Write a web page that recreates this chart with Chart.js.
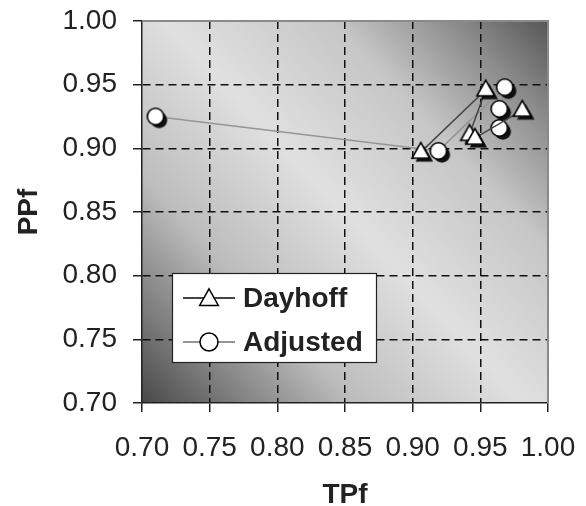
<!DOCTYPE html>
<html>
<head>
<meta charset="utf-8">
<script src="https://cdn.jsdelivr.net/npm/chart.js@4/dist/chart.umd.min.js"></script>
<style>
  html, body { margin: 0; padding: 0; background: #fff; }
  #wrap { width: 586px; height: 506px; }
</style>
</head>
<body>
<div id="wrap"><canvas id="chart" width="586" height="506"></canvas></div>
<script>
// data
var seriesNames = ['Dayhoff', 'Adjusted'];
var dayhoffTPf = [0.906, 0.954, 0.942, 0.946, 0.981];
var dayhoffPPf = [0.897, 0.946, 0.911, 0.908, 0.930];
var adjustedTPf = [0.710, 0.919, 0.968, 0.964, 0.964];
var adjustedPPf = [0.925, 0.898, 0.948, 0.931, 0.916];
var xTicks = [0.70, 0.75, 0.80, 0.85, 0.90, 0.95, 1.00];
var yTicks = [0.70, 0.75, 0.80, 0.85, 0.90, 0.95, 1.00];

var FONT = '"Liberation Sans", Arial, sans-serif';

function toPoints(xs, ys) {
    return xs.map(function (x, i) { return { x: x, y: ys[i] }; });
}

// marker glyph with a dark drop shadow, as used in the picture
function shapePath(g, kind, cx, cy, s) {
    g.beginPath();
    if (kind === 'circle') {
        g.arc(cx, cy, s, 0, Math.PI * 2);
    } else {
        g.moveTo(cx, cy - s * 1.2);
        g.lineTo(cx + s * 1.1, cy + s * 0.75);
        g.lineTo(cx - s * 1.1, cy + s * 0.75);
        g.closePath();
    }
}

function markerCanvas(kind, s) {
    var c = document.createElement('canvas');
    c.width = 40; c.height = 40;
    var g = c.getContext('2d');
    shapePath(g, kind, 23.5, 23.5, s);
    g.fillStyle = '#111';
    g.fill();
    shapePath(g, kind, 20, 20, s);
    g.fillStyle = '#fff';
    g.fill();
    g.lineWidth = 1.6;
    g.strokeStyle = '#000';
    g.stroke();
    return c;
}

var triMarker = markerCanvas('triangle', 8);
var circMarker = markerCanvas('circle', 8.2);

var plotBackground = {
    id: 'plotBackground',
    beforeDraw: function (chart) {
        var a = chart.chartArea, ctx = chart.ctx;
        var grad = ctx.createLinearGradient(a.left, a.bottom, a.right, a.top);
        grad.addColorStop(0, '#484848');
        grad.addColorStop(0.12, '#7c7c7c');
        grad.addColorStop(0.28, '#bdbdbd');
        grad.addColorStop(0.5, '#e0e0e0');
        grad.addColorStop(0.72, '#c6c6c6');
        grad.addColorStop(0.88, '#8a8a8a');
        grad.addColorStop(1, '#575757');
        ctx.save();
        ctx.fillStyle = grad;
        ctx.fillRect(a.left, a.top, a.right - a.left, a.bottom - a.top);
        ctx.restore();
    },
    beforeDatasetsDraw: function (chart) {
        var a = chart.chartArea, ctx = chart.ctx;
        ctx.save();
        ctx.strokeStyle = '#8a8a8a';
        ctx.lineWidth = 2;
        ctx.beginPath();
        ctx.moveTo(a.left, a.top);
        ctx.lineTo(a.right, a.top);
        ctx.lineTo(a.right, a.bottom);
        ctx.stroke();
        ctx.restore();
    }
};

var boxLegend = {
    id: 'boxLegend',
    afterDraw: function (chart) {
        var ctx = chart.ctx;
        var x0 = 172, y0 = 273, w = 204, h = 89;
        ctx.save();
        ctx.fillStyle = '#fff';
        ctx.fillRect(x0, y0, w, h);
        ctx.strokeStyle = '#222';
        ctx.lineWidth = 1.2;
        ctx.strokeRect(x0 + 0.5, y0 + 0.5, w, h);
        var kinds = ['triangle', 'circle'];
        chart.data.datasets.forEach(function (ds, i) {
            var cy = y0 + 25 + i * 44;
            ctx.strokeStyle = ds.borderColor;
            ctx.lineWidth = 2;
            ctx.beginPath();
            ctx.moveTo(x0 + 11, cy);
            ctx.lineTo(x0 + 63, cy);
            ctx.stroke();
            shapePath(ctx, kinds[i], x0 + 37, cy + (i === 0 ? 1 : 0), i === 0 ? 8.5 : 9);
            ctx.fillStyle = '#fff';
            ctx.fill();
            ctx.lineWidth = 1.5;
            ctx.strokeStyle = '#000';
            ctx.stroke();
            ctx.fillStyle = '#222';
            ctx.font = 'bold 28px ' + FONT;
            ctx.textAlign = 'left';
            ctx.textBaseline = 'middle';
            ctx.fillText(ds.label, x0 + 71, cy + 1);
        });
        ctx.restore();
    }
};

function gridColor(n) {
    return function (c) {
        return (c.index === 0 || c.index === n - 1) ? 'rgba(0,0,0,0)' : '#111';
    };
}

new Chart(document.getElementById('chart').getContext('2d'), {
    type: 'scatter',
    data: {
        datasets: [{
            label: seriesNames[0],
            data: toPoints(dayhoffTPf, dayhoffPPf),
            showLine: true,
            borderColor: '#454545',
            borderWidth: 1.5,
            pointStyle: triMarker,
            pointRadius: 10,
            pointHoverRadius: 10
        }, {
            label: seriesNames[1],
            data: toPoints(adjustedTPf, adjustedPPf),
            showLine: true,
            borderColor: '#959595',
            borderWidth: 1.5,
            pointStyle: circMarker,
            pointRadius: 10,
            pointHoverRadius: 10
        }]
    },
    options: {
        responsive: false,
        animation: false,
        layout: { padding: { top: 21, right: 38, left: 0, bottom: 0 } },
        plugins: {
            legend: { display: false },
            tooltip: { enabled: false }
        },
        scales: {
            x: {
                type: 'linear',
                min: 0.70,
                max: 1.00,
                afterBuildTicks: function (s) {
                    s.ticks = xTicks.map(function (v) { return { value: v }; });
                },
                afterFit: function (s) {
                    s.height = 103;
                    s.paddingLeft = 0;
                    s.paddingRight = 0;
                },
                grid: {
                    color: gridColor(xTicks.length),
                    lineWidth: 1.5,
                    tickColor: '#222',
                    tickLength: 9,
                    tickWidth: 1.5
                },
                border: { display: true, color: '#222', width: 1.5, dash: [8, 5] },
                ticks: {
                    color: '#222',
                    padding: 19,
                    maxRotation: 0,
                    autoSkip: false,
                    font: { family: FONT, size: 28 },
                    callback: function (v) { return Number(v).toFixed(2); }
                },
                title: {
                    display: true,
                    text: 'TPf',
                    color: '#222',
                    font: { family: FONT, size: 28, weight: 'bold', lineHeight: 1 },
                    padding: { top: 0, bottom: -3 }
                }
            },
            y: {
                type: 'linear',
                min: 0.70,
                max: 1.00,
                afterBuildTicks: function (s) {
                    s.ticks = yTicks.map(function (v) { return { value: v }; });
                },
                afterFit: function (s) {
                    s.width = 142;
                    s.paddingTop = 0;
                    s.paddingBottom = 0;
                },
                grid: {
                    color: gridColor(yTicks.length),
                    lineWidth: 1.5,
                    tickColor: '#222',
                    tickLength: 9,
                    tickWidth: 1.5
                },
                border: { display: true, color: '#222', width: 1.5, dash: [8, 5] },
                ticks: {
                    color: '#222',
                    padding: 16,
                    autoSkip: false,
                    font: { family: FONT, size: 28 },
                    callback: function (v) { return Number(v).toFixed(2); }
                },
                title: {
                    display: true,
                    text: 'PPf',
                    color: '#222',
                    font: { family: FONT, size: 28, weight: 'bold', lineHeight: 1 },
                    padding: { top: 15, bottom: 0 }
                }
            }
        }
    },
    plugins: [plotBackground, boxLegend]
});
</script>
</body>
</html>
